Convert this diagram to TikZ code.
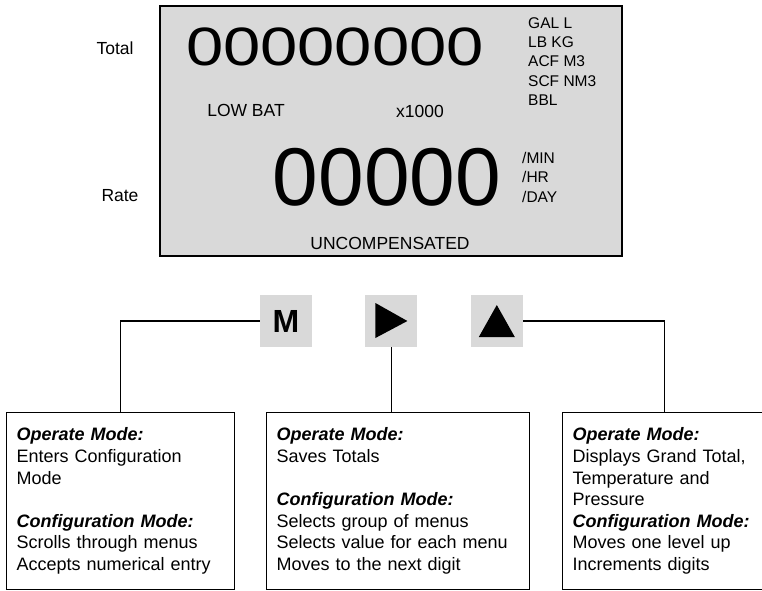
\documentclass[tikz,border=0pt]{standalone}
\usepackage{fontspec}
\setmainfont{Liberation Sans}
\usetikzlibrary{positioning}
\definecolor{lcdgray}{RGB}{217,217,217}

\tikzset{
  lbl/.style={inner sep=0pt, font=\fontsize{17.5}{21}\selectfont},
  unit/.style={inner sep=0pt, anchor=base west, font=\fontsize{15.5}{19}\selectfont},
  key/.style={fill=lcdgray, minimum size=52pt, inner sep=0pt},
  infobox/.style={draw, line width=1.2pt, align=left, anchor=north west, inner xsep=10pt,
    minimum height=177pt, font=\fontsize{18}{21.6}\selectfont},
  link/.style={line width=1.2pt},
}
\newcommand{\modehead}[1]{\textbf{\textit{#1}}}

\begin{document}
\begin{tikzpicture}[x=1pt,y=-1pt]
   \useasboundingbox (0,0) rectangle (762,590);
   % the display
   \node[draw, line width=1.4pt, fill=lcdgray, minimum width=462pt, minimum height=250pt, inner sep=0pt] (panel) at (391,131) {};
   \node[lbl] (totallbl) at (115,48) {Total};
   \node[lbl] (ratelbl) at (120,196) {Rate};
   \node[inner sep=0pt, font=\fontsize{54}{60}\selectfont] (totalval) at (335,47) {\scalebox{1.24}[1]{00000000}};
   \node[inner sep=0pt, font=\fontsize{82}{90}\selectfont] (rateval) at (387,177) {00000};
   \node[lbl] (lowbat) at (246,110) {LOW BAT};
   \node[lbl] (mult) at (420,111) {x1000};
   \node[lbl] (uncomp) at (390,243) {UNCOMPENSATED};
   \foreach \u [count=\i] in {GAL L, LB KG, ACF M3, SCF NM3, BBL}
      \node[unit] (tunit\i) at (528,{28.5+19.2*(\i-1)}) {\u};
   \foreach \u [count=\i] in {/MIN, /HR, /DAY}
      \node[unit] (runit\i) at (522,{163+19.5*(\i-1)}) {\u};
   % the keys
   \node[key, font=\fontsize{32}{32}\selectfont\bfseries] (mkey) at (286,321) {M};
   \node[key, right=53pt of mkey] (playkey) {};
   \node[key, right=53pt of playkey] (upkey) {};
   \fill ([shift={(-16,-18)}]playkey.center) -- ([shift={(-16,17)}]playkey.center) -- ([shift={(16,0)}]playkey.center) -- cycle;
   \fill ([shift={(-18,16)}]upkey.center) -- ([shift={(18,16)}]upkey.center) -- ([shift={(0,-16)}]upkey.center) -- cycle;
   % what the keys do
   \node[infobox, text width=208pt] (mbox) at (6,412) {\modehead{Operate Mode:}\\ Enters Configuration\\ Mode\\[21.6pt]
      \modehead{Configuration Mode:}\\ Scrolls through menus\\ Accepts numerical entry};
   \node[infobox, text width=243pt] (playbox) at (266,412) {\modehead{Operate Mode:}\\ Saves Totals\\[21.6pt]
      \modehead{Configuration Mode:}\\ Selects group of menus\\ Selects value for each menu\\ Moves to the next digit};
   \node[infobox, text width=184pt] (upbox) at (562,412) {\modehead{Operate Mode:}\\ Displays Grand Total,\\ Temperature and\\ Pressure\\
      \modehead{Configuration Mode:}\\ Moves one level up\\ Increments digits};
   % connect the keys to their boxes
   \draw[link] (mkey.west) -| (mbox.north);
   \draw[link] (playkey.south) -- (playkey.south |- playbox.north);
   \draw[link] (upkey.east) -| (upbox.north);
\end{tikzpicture}
\end{document}
